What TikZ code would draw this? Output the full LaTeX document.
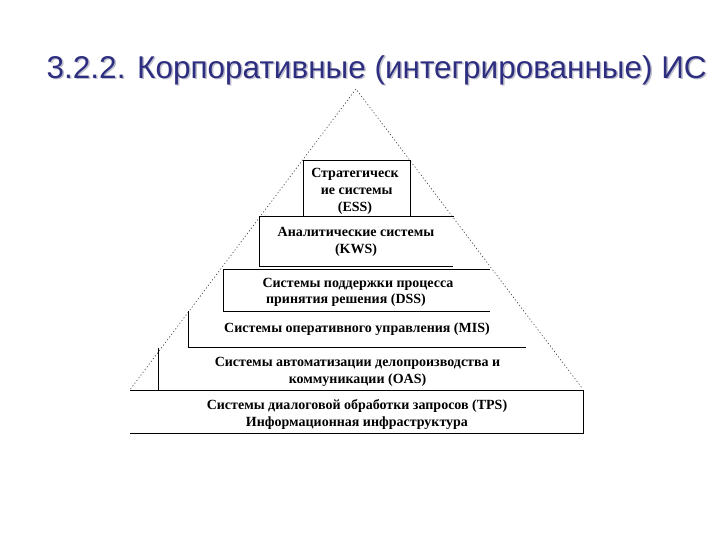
\documentclass[tikz,border=0pt]{standalone}
\usepackage{fontspec}
\setmainfont{Liberation Serif}
\newfontfamily\titlefont{Liberation Sans}
\definecolor{titleblue}{RGB}{46,46,128}
\definecolor{shadowgray}{RGB}{190,190,205}
\begin{document}
\begin{tikzpicture}[x=1pt,y=-1pt,
  layerline/.style={draw=black, line width=0.9pt},
  tri/.style={draw=black!75, line width=0.6pt, dash pattern=on 1.2pt off 2.2pt},
  lbl/.style={font=\bfseries\fontsize{14}{17}\selectfont, align=center, inner sep=0pt, text=black},
  ttl/.style={anchor=base west, inner sep=0pt, font=\titlefont\fontsize{31.5}{36}\selectfont}]
\useasboundingbox (0,0) rectangle (720,540);
\fill[white] (0,0) rectangle (720,540);
% title with shadow
\node[ttl, text=shadowgray] (titleshadow) at (48,80) {3.2.2. Корпоративные (интегрированные) ИС};
\node[ttl, text=titleblue] (title) at (46.5,78.3) {3.2.2. Корпоративные (интегрированные) ИС};
% triangle
\coordinate (apex) at (356,89);
\coordinate (bl) at (130.5,389);
\coordinate (br) at (582,388);
\draw[tri] (bl) -- (apex) -- (br);
% layers
\draw[layerline] (303,216.7) -- (303,160) -- (410,160) -- (410,216.7);
\draw[layerline] (454,216.7) -- (259,216.7) -- (259,266) -- (453,266);
\draw[layerline] (490,269) -- (223,269) -- (223,311) -- (490,311);
\draw[layerline] (188,311) -- (188,347) -- (526,347);
\draw[layerline] (158,348) -- (158,390);
\draw[layerline] (130,390) -- (583,390) -- (583,433.3) -- (130,433.3);
% labels
\node[lbl] (ess) at (355,191) {Стратегическ\\ \ ие системы\\(ESS)};
\node[lbl] (kws) at (356,241.5) {Аналитические системы\\(KWS)};
\node[lbl] (dss1) at (358,284) {Системы поддержки процесса};
\node[lbl] (dss2) at (346,300) {принятия решения (DSS)};
\node[lbl] (mis) at (357,329) {Системы оперативного управления (MIS)};
\node[lbl] (oas) at (357.5,372) {Системы автоматизации делопроизводства и\\коммуникации (OAS)};
\node[lbl] (tps) at (357,414) {Системы диалоговой обработки запросов (TPS)\\Информационная инфраструктура};
\end{tikzpicture}
\end{document}
